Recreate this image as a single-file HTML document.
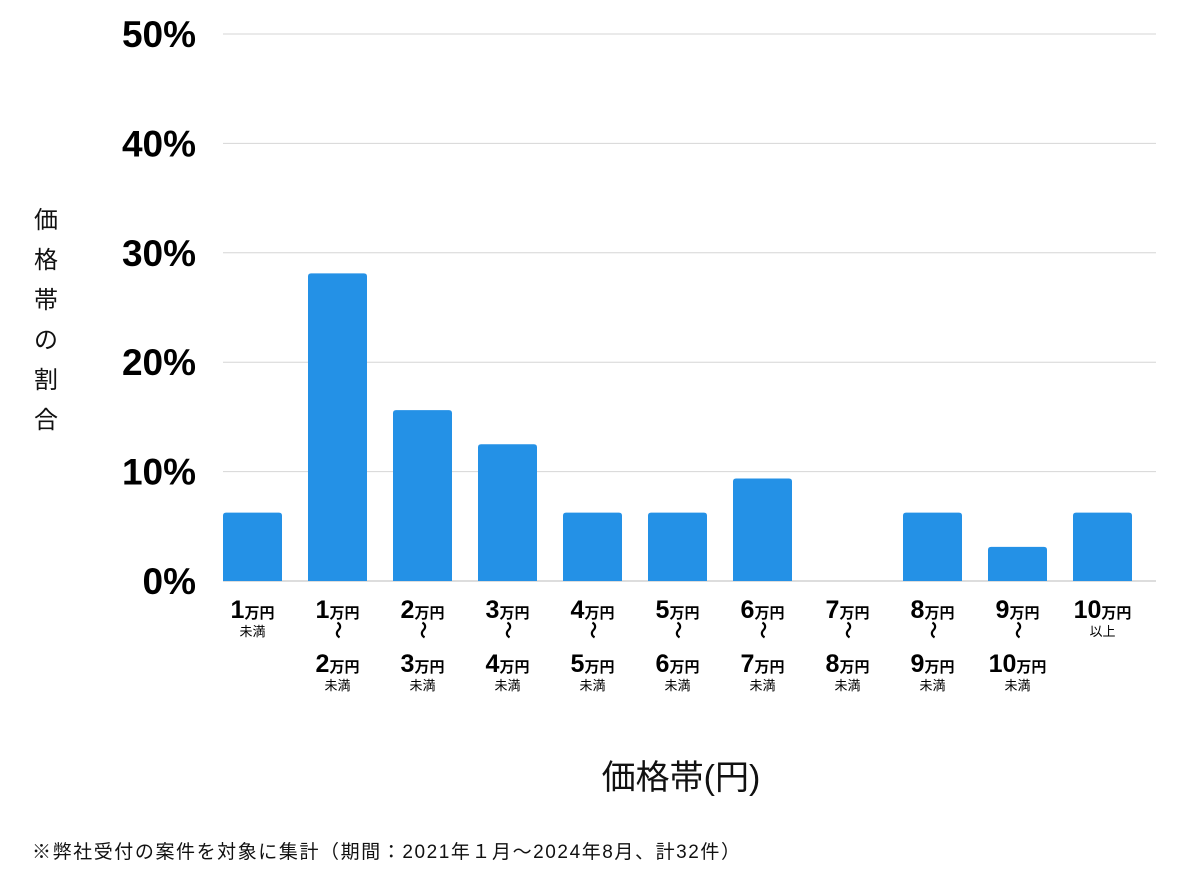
<!DOCTYPE html>
<html><head><meta charset="utf-8"><style>
html,body{margin:0;padding:0;background:#fff;}
svg{display:block;font-family:"Liberation Sans","Noto Sans CJK JP",sans-serif;}
</style></head><body>
<svg id="chart" width="1200" height="874" viewBox="0 0 1200 874" xmlns="http://www.w3.org/2000/svg">
<g id="grid"></g>
<g id="yticks"></g>
<g id="bars"></g>
<g id="xlabels"></g>
<text x="46" y="228" font-size="24" fill="#111" text-anchor="middle">
<tspan x="46" dy="0">価</tspan><tspan x="46" dy="40">格</tspan><tspan x="46" dy="40">帯</tspan><tspan x="46" dy="40">の</tspan><tspan x="46" dy="40">割</tspan><tspan x="46" dy="40">合</tspan></text>
<text x="681" y="789" font-size="34" fill="#111" text-anchor="middle">価格帯(円)</text>
<text x="32" y="858" font-size="19" fill="#111" textLength="708" lengthAdjust="spacing">※弊社受付の案件を対象に集計（期間：2021年１月〜2024年8月、計32件）</text>
</svg>
<script>
const categories = [["1","未満"],["1","2"],["2","3"],["3","4"],["4","5"],["5","6"],["6","7"],["7","8"],["8","9"],["9","10"],["10","以上"]];
const values = [6.25, 28.125, 15.625, 12.5, 6.25, 6.25, 9.375, 0, 6.25, 3.125, 6.25];
const yTicks = [0, 10, 20, 30, 40, 50];
const NS = "http://www.w3.org/2000/svg";
const x0 = 223, x1 = 1156, step = 85, bw = 59;
function y(v){ return 581 - v * (547/50); }
function xb(i){ return x0 + i * step; }
function mk(tag, attrs, parent, txt){
  const e = document.createElementNS(NS, tag);
  for (const k in attrs) e.setAttribute(k, attrs[k]);
  if (txt !== undefined) e.textContent = txt;
  parent.appendChild(e); return e;
}
const grid = document.getElementById('grid'), yt = document.getElementById('yticks'),
      bars = document.getElementById('bars'), xl = document.getElementById('xlabels');
yTicks.forEach(t => {
  const l = mk('line', {x1:x0, x2:x1, y1:y(t), y2:y(t), stroke: t===0 ? '#bbb' : '#d6d6d6', 'stroke-width':1}, grid);
  
  
  const tx = mk('text', {x:196, y:y(t)+13, 'font-size':37, 'font-weight':'bold', 'text-anchor':'end', fill:'#000'}, yt, t + '%');
  
  
});
values.forEach((v, i) => {
  if (v > 0) {
    const h = 581 - y(v), r = Math.min(3, h/2);
    const x = xb(i), top = y(v);
    const p = mk('path', {d:`M${x},581 V${top+r} Q${x},${top} ${x+r},${top} H${x+bw-r} Q${x+bw},${top} ${x+bw},${top+r} V581 Z`, fill:'#2491e6'}, bars);
    
    
  }
  const cx = xb(i) + bw/2;
  const g = mk('g', {}, xl);
  
  
  const c = categories[i];
  function band(num, yy){
    const t = mk('text', {x:cx, y:yy, 'text-anchor':'middle', 'font-weight':'bold', fill:'#000'}, g);
    mk('tspan', {'font-size':25}, t, num);
    mk('tspan', {'font-size':15}, t, '万円');
  }
  band(c[0], 618);
  if (c[1] === '未満' || c[1] === '以上') {
    mk('text', {x:cx, y:636, 'text-anchor':'middle', 'font-size':13, fill:'#000'}, g, c[1]);
  } else {
    mk('text', {x:cx, y:636, 'text-anchor':'middle', 'font-size':18, 'font-weight':'bold', fill:'#000', transform:`rotate(90 ${cx} 630)`}, g, '〜');
    band(c[1], 672);
    mk('text', {x:cx, y:690, 'text-anchor':'middle', 'font-size':13, fill:'#000'}, g, '未満');
  }
});
</script>
</body></html>
